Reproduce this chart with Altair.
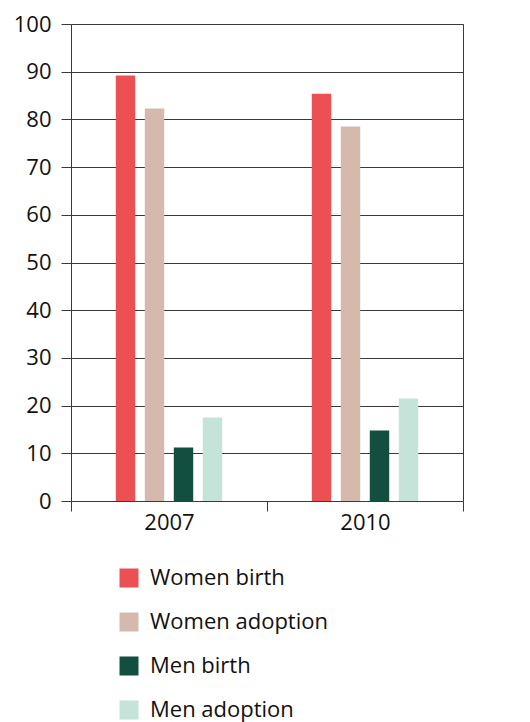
import altair as alt
import pandas as pd

years = ["2007", "2010"]
series = ["Women birth", "Women adoption", "Men birth", "Men adoption"]
colors = ["#EB5153", "#D6B9AD", "#134F41", "#C5E3D8"]
women_birth = [89.2, 85.4]
women_adoption = [82.3, 78.5]
men_birth = [11.2, 14.8]
men_adoption = [17.5, 21.5]
y_ticks = [0, 10, 20, 30, 40, 50, 60, 70, 80, 90, 100]
# empty slots either side of each group (keep bars centred and narrow)
offset_slots = ["_left"] + series + ["_right"]

rows = []
for s, vals in zip(series, [women_birth, women_adoption, men_birth, men_adoption]):
    for y, v in zip(years, vals):
        rows.append({"year": y, "series": s, "value": v})
df = pd.DataFrame(rows)

FONT = "Open Sans"
GRID = "#3a3a3a"

x_enc = alt.X(
    "year:N",
    sort=years,
    scale=alt.Scale(paddingInner=0, paddingOuter=0),
    axis=alt.Axis(
        title=None, tickBand="extent", tickSize=10, domain=False,
        tickColor=GRID, tickWidth=1, labelAngle=0, labelFont=FONT,
        labelFontSize=22, labelColor="#111", labelPadding=1, grid=False,
    ),
)

bars = alt.Chart(df).mark_bar().encode(
    x=x_enc,
    xOffset=alt.XOffset("series:N",
                        scale=alt.Scale(domain=offset_slots, paddingInner=0.33,
                                        paddingOuter=0.545)),
    y=alt.Y("value:Q", scale=alt.Scale(domain=[0, 100], nice=False),
            axis=alt.Axis(title=None, values=y_ticks, grid=True, gridColor=GRID,
                          gridWidth=1, gridOpacity=1, tickSize=10, tickColor=GRID,
                          domainColor=GRID, labelFont=FONT, labelFontSize=22,
                          labelColor="#111", labelPadding=10, orient="left")),
    color=alt.Color("series:N", sort=series,
                    scale=alt.Scale(domain=series, range=colors),
                    legend=alt.Legend(title=None, orient="none", legendX=47, legendY=543,
                                      symbolType="square", symbolSize=361,
                                      symbolStrokeWidth=0, labelFont=FONT,
                                      labelFontSize=22, labelColor="#111", labelLimit=400,
                                      rowPadding=22, labelOffset=10)),
)

chart = bars.properties(
    width=392, height=477
).configure_view(stroke=GRID, strokeWidth=1)

chart.save("out.html", embed_options={"renderer": "svg", "actions": False})
